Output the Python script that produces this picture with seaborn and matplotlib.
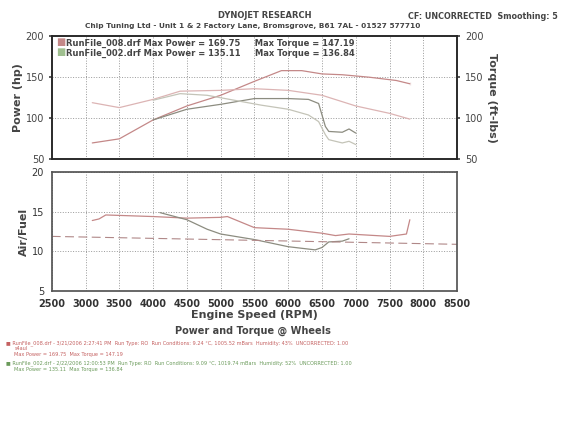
import matplotlib
matplotlib.use("Agg")
import matplotlib.pyplot as plt
import seaborn as sns
import pandas as pd

sns.set_theme(style="white")
plt.rcParams['font.family'] = ['DejaVu Sans']

red_pw_rpm = [3100, 3500, 4000, 4500, 5000, 5500, 5900, 6200, 6500, 6800, 7200, 7600, 7800, 7800]
red_pw = [70, 75, 98, 115, 128, 145, 158, 158, 154, 153, 150, 146, 144, 140]
red_tq_rpm = [3100, 3500, 4000, 4400, 5000, 5500, 6000, 6500, 7000, 7500, 7800]
red_tq = [119, 113, 123, 133, 134, 136, 134, 128, 115, 106, 99]
grn_pw_rpm = [4000, 4500, 5000, 5500, 6000, 6300, 6450, 6550, 6600, 6800, 6900, 7000]
grn_pw = [98, 111, 117, 124, 124, 123, 118, 90, 84, 83, 87, 82]
grn_tq_rpm = [4000, 4400, 4800, 5200, 5600, 6000, 6300, 6450, 6550, 6600, 6800, 6900, 7000]
grn_tq = [122, 130, 128, 122, 116, 111, 104, 96, 80, 74, 70, 72, 68]
red_afr_rpm = [3100, 3200, 3300, 4000, 4500, 5000, 5100, 5500, 6000, 6500, 6700, 6900, 7500, 7750, 7800]
red_afr = [13.9, 14.1, 14.6, 14.4, 14.2, 14.3, 14.4, 13.0, 12.8, 12.3, 12.0, 12.2, 11.9, 12.2, 14.0]
grn_afr_rpm = [4100, 4500, 4800, 5000, 5500, 6000, 6300, 6400, 6500, 6600, 6800, 6900]
grn_afr = [14.9, 14.0, 12.8, 12.2, 11.5, 10.6, 10.3, 10.2, 10.5, 11.2, 11.3, 11.6]
ref_rpm = [2500, 8500]
ref_afr = [11.9, 10.9]

red = "#c48888"
grn = "#8c8c80"

fig = plt.figure(figsize=(5.75, 4.25), dpi=100)
ax1 = fig.add_axes([0.09, 0.625, 0.705, 0.29])
ax2 = ax1.twinx()
ax3 = fig.add_axes([0.09, 0.315, 0.705, 0.28])

sns.lineplot(x=red_pw_rpm, y=red_pw, ax=ax1, color=red, lw=0.9, sort=False)
sns.lineplot(x=grn_pw_rpm, y=grn_pw, ax=ax1, color=grn, lw=0.9, sort=False)
sns.lineplot(x=red_tq_rpm, y=red_tq, ax=ax2, color="#dcb4b4", lw=0.9, sort=False)
sns.lineplot(x=grn_tq_rpm, y=grn_tq, ax=ax2, color="#c4c4b8", lw=0.9, sort=False)
for a in (ax1, ax2):
    a.set_ylim(50, 200)
    a.set_yticks([50, 100, 150, 200])
    a.tick_params(labelsize=7, colors="#444", length=2)
ax1.set_xlim(2500, 8500)
ax1.set_xticks(range(3000, 8500, 500))
ax1.set_xticklabels([])
ax1.grid(True, ls=":", color="#999999", lw=0.7)
ax1.set_ylabel("Power (hp)", fontsize=8, fontweight="bold", color="#444", labelpad=2)
ax2.set_ylabel("Torque (ft-lbs)", fontsize=8, fontweight="bold", color="#444", rotation=270, labelpad=10)
ax1.text(0.01, 0.99, "\u25a0", color=red, fontsize=7, transform=ax1.transAxes, va="top")
ax1.text(0.01, 0.91, "\u25a0", color="#9fbf8f", fontsize=7, transform=ax1.transAxes, va="top")
ax1.text(0.035, 0.98, "RunFile_008.drf Max Power = 169.75     Max Torque = 147.19", fontsize=6, fontweight="bold", color="#444", transform=ax1.transAxes, va="top")
ax1.text(0.035, 0.90, "RunFile_002.drf Max Power = 135.11     Max Torque = 136.84", fontsize=6, fontweight="bold", color="#444", transform=ax1.transAxes, va="top")
for s in ax1.spines.values():
    s.set_color("#555")

sns.lineplot(x=red_afr_rpm, y=red_afr, ax=ax3, color=red, lw=0.9, sort=False)
sns.lineplot(x=grn_afr_rpm, y=grn_afr, ax=ax3, color=grn, lw=0.9, sort=False)
sns.lineplot(x=ref_rpm, y=ref_afr, ax=ax3, color="#b08888", lw=0.8, linestyle=(0, (8, 4)))
ax3.set_xlim(2500, 8500)
ax3.set_ylim(5, 20)
ax3.set_yticks([5, 10, 15, 20])
ax3.set_xticks(range(2500, 9000, 500))
ax3.grid(True, ls=":", color="#999999", lw=0.7)
ax3.tick_params(labelsize=7, colors="#333", length=2)
for l in ax3.get_xticklabels():
    l.set_fontweight("bold")
ax3.set_ylabel("Air/Fuel", fontsize=8, fontweight="bold", color="#444", labelpad=2)
ax3.set_xlabel("Engine Speed (RPM)", fontsize=8, fontweight="bold", color="#444", labelpad=1)
for s in ax3.spines.values():
    s.set_color("#555")

fig.text(0.46, 0.958, "DYNOJET RESEARCH", fontsize=6, fontweight="bold", color="#444", ha="center")
fig.text(0.44, 0.935, "Chip Tuning Ltd - Unit 1 & 2 Factory Lane, Bromsgrove, B61 7AL - 01527 577710", fontsize=5.3, fontweight="bold", color="#444", ha="center")
fig.text(0.71, 0.955, "CF: UNCORRECTED  Smoothing: 5", fontsize=5.8, fontweight="bold", color="#444")
fig.text(0.44, 0.215, "Power and Torque @ Wheels", fontsize=7, fontweight="bold", color="#444", ha="center")
fig.text(0.01, 0.19, "\u25a0 RunFile_008.drf - 3/21/2006 2:27:41 PM  Run Type: RO  Run Conditions: 9.24 \u00b0C, 1005.52 mBars  Humidity: 43%  UNCORRECTED: 1.00", fontsize=3.6, color="#c46060")
fig.text(0.025, 0.176, "s4aul", fontsize=3.6, color="#c46060")
fig.text(0.025, 0.162, "Max Power = 169.75  Max Torque = 147.19", fontsize=3.6, color="#c46060")
fig.text(0.01, 0.142, "\u25a0 RunFile_002.drf - 2/22/2006 12:00:53 PM  Run Type: RO  Run Conditions: 9.09 \u00b0C, 1019.74 mBars  Humidity: 52%  UNCORRECTED: 1.00", fontsize=3.6, color="#6a9a5a")
fig.text(0.025, 0.128, "Max Power = 135.11  Max Torque = 136.84", fontsize=3.6, color="#6a9a5a")

fig.savefig("out.png", dpi=100)
